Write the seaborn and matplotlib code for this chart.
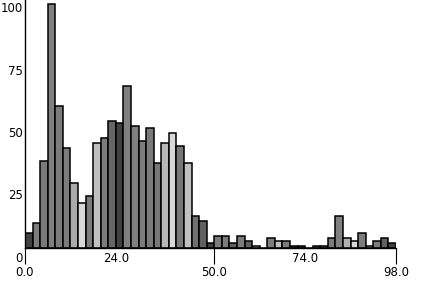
import numpy as np
import pandas as pd
import matplotlib
matplotlib.use("Agg")
import matplotlib.pyplot as plt
import matplotlib.transforms as mtransforms
from matplotlib import font_manager
import seaborn as sns

# ==========================================
# DADOS
# ==========================================
bin_width = 2
bin_starts = list(range(0, 98, bin_width))
counts = [6, 10, 35, 98, 57, 40, 26, 18, 21, 42,
          44, 51, 50, 65, 49, 43, 48, 34, 42, 46,
          41, 34, 13, 11, 2, 5, 5, 2, 5, 3,
          1, 0, 4, 3, 3, 1, 1, 0, 1, 1,
          4, 13, 4, 3, 6, 1, 3, 4, 2]
shades = ['#404040', '#7c7c7c', '#7a7a7a', '#808080', '#7c7c7c', '#7c7c7c', '#aaaaaa', '#d8d8d8', '#7c7c7c', '#c0c0c0',
          '#7c7c7c', '#666666', '#404040', '#808080', '#808080', '#7c7c7c', '#7a7a7a', '#787878', '#b8b8b8', '#d8d8d8',
          '#787878', '#c0c0c0', '#707070', '#606060', '#404040', '#7c7c7c', '#7c7c7c', '#606060', '#7c7c7c', '#606060',
          '#c0c0c0', '#ffffff', '#7c7c7c', '#c0c0c0', '#7c7c7c', '#505050', '#404040', '#ffffff', '#707070', '#707070',
          '#7c7c7c', '#808080', '#b0b0b0', '#d8d8d8', '#7c7c7c', '#c0c0c0', '#7c7c7c', '#606060', '#404040']
ytick_values = [0, 25, 50, 75, 100]
xtick_lower = [0, 50, 98]
xtick_upper = [24, 74]

df = pd.DataFrame({
    'centro': [s + bin_width / 2 for s in bin_starts],
    'contagem': counts,
    'bin': [str(i) for i in range(len(counts))],
})

# ==========================================
# FIGURA
# ==========================================
sns.set_style("white")

# fonte estreita, se existir
fonte = 'DejaVu Sans'
tamanho = 8.5
for nome, tam in [('Liberation Sans Narrow', 10.5), ('DejaVu Sans Condensed', 8.5)]:
    try:
        font_manager.findfont(font_manager.FontProperties(family=nome), fallback_to_default=False)
        fonte, tamanho = nome, tam
        break
    except Exception:
        pass
plt.rcParams['font.family'] = [fonte, 'DejaVu Sans']

W, H, DPI = 426, 285, 100
fig = plt.figure(figsize=(W / DPI, H / DPI), dpi=DPI)

px_per_unit = 2.49
ymax = 102
x0, x1, ybase = 25, 396, 248
ax = fig.add_axes([x0 / W, (H - ybase) / H, (x1 - x0) / W, ymax * px_per_unit / H])

sns.barplot(
    data=df, x='centro', y='contagem',
    hue='bin', hue_order=df['bin'].tolist(), palette=shades,
    native_scale=True, dodge=False, width=1,
    edgecolor='black', linewidth=1.1, saturation=1,
    legend=False, ax=ax,
)

ax.set_xlim(0, 98)
ax.set_ylim(0, ymax)
ax.set_xlabel('')
ax.set_ylabel('')

for s in ['top', 'right']:
    ax.spines[s].set_visible(False)
for s in ['left', 'bottom']:
    ax.spines[s].set_color('black')
    ax.spines[s].set_linewidth(1.0)

# eixo x: rótulos escalonados em duas linhas
ax.set_xticks(xtick_lower)
ax.set_xticklabels([f'{v:.1f}' for v in xtick_lower])
ax.set_xticks(xtick_upper, minor=True)
ax.set_xticklabels([f'{v:.1f}' for v in xtick_upper], minor=True)
ax.tick_params(axis='x', which='major', length=11.5, width=0.8, color='black',
               direction='out', pad=1.5, labelsize=tamanho, labelcolor='black')
ax.tick_params(axis='x', which='minor', length=0, pad=3, labelsize=tamanho, labelcolor='black')
ax.tick_params(axis='x', which='both', bottom=True)

# eixo y: rótulos deslocados para baixo como no original
ax.set_yticks([])
offset = mtransforms.ScaledTranslation(-2 / DPI, -10 / DPI, fig.dpi_scale_trans)
trans = mtransforms.blended_transform_factory(ax.transAxes, ax.transData) + offset
for v in ytick_values:
    ax.text(0, v, str(v), transform=trans, ha='right', va='center',
            fontsize=tamanho, color='black', clip_on=False)

fig.savefig('out.png', dpi=DPI, facecolor='white')
